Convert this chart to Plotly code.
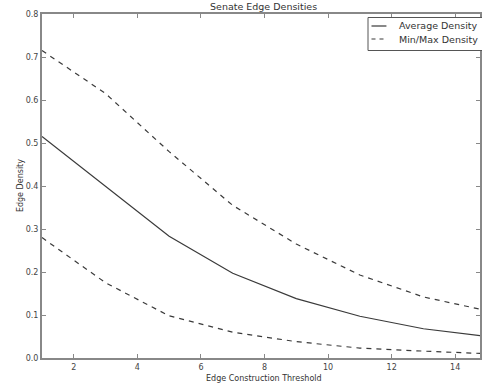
import plotly.graph_objects as go

thresholds = [1, 3, 5, 7, 9, 11, 13, 15]
avg_density = [0.515, 0.400, 0.283, 0.197, 0.138, 0.097, 0.068, 0.050]
max_density = [0.715, 0.615, 0.480, 0.355, 0.265, 0.193, 0.142, 0.110]
min_density = [0.280, 0.175, 0.098, 0.060, 0.038, 0.023, 0.016, 0.010]
x_ticks = [2, 4, 6, 8, 10, 12, 14]
y_ticks = [0.0, 0.1, 0.2, 0.3, 0.4, 0.5, 0.6, 0.7, 0.8]
legend_labels = ["Average Density", "Min/Max Density"]

line_color = "#3a3a3a"
font = "DejaVu Sans"

W, H = 482, 388
ML, MR, MT, MB = 42, 0, 14, 30
PW, PH = W - ML - MR, H - MT - MB


def px_x(px):
    return (px - ML) / PW


def px_y(py):
    return (H - MB - py) / PH


fig = go.Figure()
fig.add_trace(go.Scatter(x=thresholds, y=avg_density, mode="lines",
                         name=legend_labels[0], showlegend=False,
                         line=dict(color=line_color, width=1.2)))
fig.add_trace(go.Scatter(x=thresholds, y=max_density, mode="lines",
                         name=legend_labels[1], showlegend=False,
                         line=dict(color=line_color, width=1.2, dash="5px,5px")))
fig.add_trace(go.Scatter(x=thresholds, y=min_density, mode="lines",
                         name=legend_labels[1], showlegend=False,
                         line=dict(color=line_color, width=1.2, dash="5px,5px")))

axis_common = dict(showgrid=False, zeroline=False, showline=True, linecolor="#888888",
                   linewidth=2, mirror="ticks", ticks="inside", ticklen=4,
                   tickcolor="#888888", tickfont=dict(family=font, size=8, color="#444444"))

# custom compact legend (matplotlib style)
shapes = [
    dict(type="rect", xref="paper", yref="paper",
         x0=px_x(369.5), x1=px_x(490), y0=px_y(50.5), y1=px_y(17.5),
         line=dict(color="#555555", width=1), fillcolor="white", layer="above"),
    dict(type="line", xref="paper", yref="paper",
         x0=px_x(373), x1=px_x(388), y0=px_y(26), y1=px_y(26),
         line=dict(color=line_color, width=1.2), layer="above"),
    dict(type="line", xref="paper", yref="paper",
         x0=px_x(373), x1=px_x(388), y0=px_y(39), y1=px_y(39),
         line=dict(color=line_color, width=1.2, dash="4px,4px"), layer="above"),
]
annotations = [
    dict(text=legend_labels[0], xref="paper", yref="paper", x=px_x(399), y=px_y(26),
         xanchor="left", yanchor="middle", showarrow=False,
         font=dict(family=font, size=9.5, color="#333333")),
    dict(text=legend_labels[1], xref="paper", yref="paper", x=px_x(399), y=px_y(39),
         xanchor="left", yanchor="middle", showarrow=False,
         font=dict(family=font, size=9.5, color="#333333")),
    dict(text="Edge Density", xref="paper", yref="paper", x=px_x(20), y=0.5,
         xanchor="center", yanchor="middle", textangle=-90, showarrow=False,
         font=dict(family=font, size=8, color="#333333")),
    dict(text="Edge Construction Threshold", xref="paper", yref="paper",
         x=px_x(265.5), y=px_y(378), xanchor="center", yanchor="middle", showarrow=False,
         font=dict(family=font, size=8, color="#333333")),
    dict(text="Senate Edge Densities", xref="paper", yref="paper",
         x=px_x(265), y=px_y(7), xanchor="center", yanchor="middle", showarrow=False,
         font=dict(family=font, size=9.5, color="#333333")),
]

fig.update_layout(
    width=W, height=H,
    margin=dict(l=ML, r=MR, t=MT, b=MB),
    paper_bgcolor="white", plot_bgcolor="white",
    xaxis=dict(range=[1, 14.78], tickvals=x_ticks, **axis_common),
    yaxis=dict(range=[0, 0.8], tickvals=y_ticks, ticktext=[f"{v:.1f}" for v in y_ticks],
               **axis_common),
    shapes=shapes,
    annotations=annotations,
    showlegend=False,
)

fig.write_html("out.html")
